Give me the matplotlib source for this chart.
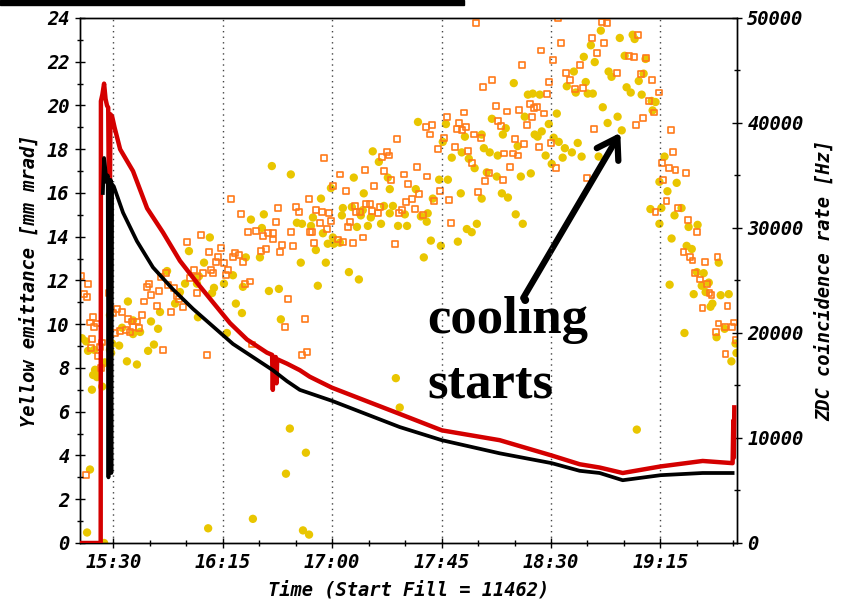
import numpy as np
import matplotlib.pyplot as plt
from matplotlib.ticker import MultipleLocator, FuncFormatter
from matplotlib.patches import Rectangle

# time axis: minutes after 15:00; emittance in mm mrad; rates in kHz

red_t = [16.3, 24.8, 24.9, 25.5, 26.2, 26.8, 27.4, 27.9, 28.2, 28.5, 28.8, 29.5,
         30.5, 32.8, 38.1, 43.9, 50.4, 57.4, 64.4, 71.0, 78.0, 85.0, 93.2, 95.3,
         95.6, 95.9, 96.8, 97.1, 97.4, 101.4, 106.7, 110.8, 119.9, 135.0, 147.8,
         165.1, 188.9, 210.3, 221.8, 230.0, 239.5, 255.1, 272.4, 284.7, 285.0,
         285.2, 285.4]
red_v = [0.0, 0.0, 20.2, 20.5, 21.0, 20.3, 20.0, 19.9, 15.5, 13.9, 19.6, 19.5,
         19.0, 18.0, 17.0, 15.3, 14.2, 12.9, 11.9, 11.0, 10.05, 9.3, 8.7, 8.6,
         7.0, 8.5, 8.5, 7.3, 8.4, 8.2, 7.9, 7.6, 7.1, 6.45, 5.9,
         5.15, 4.7, 4.0, 3.6, 3.45, 3.2, 3.5, 3.75, 3.65, 5.6,
         3.9, 6.2]

blk_t = [25.7, 26.2, 26.6, 27.2, 27.7, 28.0, 28.3, 28.6, 28.9, 29.2, 29.5, 30.2,
         34.0, 39.7, 46.3, 54.5, 62.8, 71.0, 79.2, 87.4, 95.6, 101.4, 106.7,
         119.9, 135.0, 147.8, 165.1, 188.9, 210.3, 221.8, 230.0, 239.5, 255.1,
         272.4, 284.7]
blk_v = [16.0, 17.6, 17.2, 16.5, 16.8, 3.0, 16.5, 4.7, 16.6, 3.2, 16.4, 16.3,
         15.1, 13.8, 12.6, 11.6, 10.7, 9.9, 9.1, 8.5, 7.9, 7.4, 7.0,
         6.5, 5.85, 5.3, 4.7, 4.1, 3.65, 3.3, 3.2, 2.87, 3.1,
         3.2, 3.2]

yel_t = [17.1, 18.8, 19.6, 22.1, 21.7, 22.5, 23.3, 23.3, 21.2, 25.8, 26.5, 25.4,
         20.4, 19.2, 26.2, 28.6, 29.5, 29.1, 32.4, 28.6, 35.6, 39.7, 33.6, 38.1,
         41.0, 48.4, 46.7, 44.3, 36.0, 45.5, 38.1, 49.2, 55.4, 57.4, 64.8, 59.5,
         64.4, 65.2, 52.1, 61.1, 67.3, 69.7, 71.4, 70.6, 75.5, 79.2, 80.4, 82.9,
         83.3, 84.5, 90.3, 86.6, 91.9, 91.1, 95.2, 103.0, 105.5, 107.1, 94.0, 98.1,
         98.9, 76.7, 87.4, 69.0, 101.0, 102.6, 109.2, 146.2, 147.8, 108.0, 110.5, 245.3,
         155.3, 166.8, 165.5, 174.6, 185.7, 182.4, 184.8, 188.1, 136.7, 139.2, 173.3, 169.2,
         176.2, 178.6, 142.9, 128.9, 119.5, 164.0, 167.6, 143.7, 133.0, 154.4, 172.9, 181.5,
         187.7, 161.4, 115.4, 124.4, 128.1, 141.3, 145.0, 135.9, 132.6, 143.7, 149.9, 159.3,
         156.5, 112.1, 124.0, 131.8, 130.2, 134.7, 140.1, 147.1, 150.8, 158.9, 107.6, 111.3,
         116.2, 120.3, 118.2, 120.7, 123.2, 113.3, 160.6, 164.7, 157.7, 171.7, 175.4, 177.4,
         179.5, 117.4, 126.9, 131.0, 114.1, 230.5, 226.4, 238.3, 243.6, 244.4, 223.5, 228.0,
         240.3, 219.4, 233.7, 234.9, 224.3, 216.5, 220.2, 225.1, 227.2, 241.1, 242.8, 247.3,
         246.1, 248.1, 251.4, 253.0, 251.8, 194.7, 200.5, 202.5, 205.4, 212.4, 209.1, 231.3,
         237.4, 233.3, 239.1, 191.4, 190.2, 203.3, 206.2, 204.5, 199.2, 211.1, 213.2, 215.7,
         218.6, 221.0, 222.6, 229.6, 214.8, 207.8, 196.3, 181.5, 210.3, 183.6, 197.6, 201.7,
         189.8, 192.3, 195.5, 198.4, 256.7, 254.6, 257.9, 255.4, 250.9, 261.7, 260.8, 263.7,
         254.6, 266.6, 270.3, 259.6, 265.8, 267.9, 279.0, 270.0, 272.8, 274.9, 272.0, 258.8,
         273.6, 268.7, 279.8, 283.1, 276.4, 275.6, 264.9, 281.4, 278.1, 285.9, 286.3, 284.2,
         248.9]
yel_khz = [19.5, 19.2, 18.3, 18.4, 16.0, 16.5, 15.8, 16.4, 14.6, 17.1, 17.2, 14.9,
           7.0, 1.0, 0.0, 21.7, 19.0, 18.1, 18.8, 18.4, 17.3, 17.0, 20.5, 19.9,
           20.1, 20.4, 18.9, 18.3, 23.0, 21.1, 21.2, 22.0, 22.8, 23.9, 21.5, 24.7,
           24.7, 25.4, 25.9, 27.8, 26.7, 29.1, 24.3, 23.8, 24.7, 25.5, 22.8, 21.9,
           24.4, 27.2, 27.2, 30.8, 31.3, 30.0, 35.9, 35.1, 30.5, 26.7, 24.0, 24.2,
           21.3, 20.0, 2.3, 1.4, 6.6, 10.9, 8.6, 15.7, 12.9, 1.2, 0.8, 10.8,
           40.1, 39.9, 38.2, 38.7, 40.4, 37.6, 37.2, 36.9, 37.3, 36.3, 37.2, 36.7,
           36.6, 35.7, 34.8, 34.8, 33.8, 34.6, 34.6, 33.7, 33.3, 33.7, 33.3, 32.8,
           34.9, 32.8, 32.8, 31.9, 32.0, 32.1, 32.1, 31.0, 31.7, 31.4, 31.3, 31.4,
           31.1, 31.0, 31.2, 31.2, 30.1, 30.2, 30.4, 30.2, 30.2, 30.6, 30.4, 30.2,
           29.5, 29.1, 28.5, 28.5, 28.6, 27.9, 28.8, 28.3, 27.2, 28.7, 29.9, 29.6,
           30.4, 26.7, 25.8, 25.1, 24.5, 48.8, 47.4, 48.1, 48.4, 48.0, 46.3, 45.8,
           46.4, 44.9, 44.9, 44.4, 43.9, 43.5, 42.9, 42.8, 42.8, 43.4, 42.9, 42.7,
           44.0, 44.7, 42.1, 42.0, 41.2, 43.8, 42.7, 42.8, 42.7, 40.9, 39.9, 41.5,
           40.6, 40.0, 39.3, 39.5, 38.9, 38.9, 39.2, 38.7, 40.6, 38.6, 38.2, 37.6,
           37.2, 38.1, 36.8, 36.8, 36.7, 36.9, 37.8, 38.9, 36.1, 35.3, 34.9, 35.2,
           33.3, 32.9, 31.3, 30.4, 36.8, 34.4, 33.5, 31.9, 31.8, 34.3, 31.2, 31.9,
           30.4, 30.1, 30.3, 29.0, 28.3, 28.0, 26.7, 25.8, 25.7, 24.8, 24.5, 24.6,
           23.9, 23.7, 23.6, 23.7, 22.8, 22.5, 20.0, 20.4, 19.6, 19.0, 18.1, 17.3,
           46.1]

sq_t = [16.8, 19.6, 18.0, 19.2, 20.4, 21.7, 23.3, 21.2, 20.8, 24.5, 25.4, 23.7,
        24.9, 18.8, 22.1, 28.2, 29.9, 31.5, 33.6, 30.7, 36.0, 37.7, 39.7, 38.1,
        40.6, 35.2, 32.8, 36.9, 41.8, 42.6, 48.0, 53.8, 58.7, 57.0, 56.2, 45.5,
        48.8, 43.9, 55.0, 52.5, 44.7, 49.6, 51.7, 61.5, 64.4, 64.4, 63.2, 66.9,
        71.0, 70.2, 77.2, 76.4, 72.2, 73.0, 75.5, 69.4, 74.3, 60.3, 66.1, 78.4,
        82.5, 84.1, 86.2, 80.0, 81.7, 79.2, 83.3, 85.4, 88.6, 91.5, 93.6, 95.6,
        95.6, 96.8, 97.6, 105.1, 106.3, 110.4, 103.0, 110.8, 99.3, 103.8, 92.7, 90.7,
        98.5, 101.8, 108.8, 100.6, 107.6, 109.6, 68.5, 87.0, 50.4,
        116.6, 146.6, 123.2, 133.4, 141.3, 142.5, 143.3, 140.4, 154.8, 158.9, 149.5, 144.1,
        151.1, 137.1, 120.3, 125.6, 155.6, 152.8, 150.3, 161.8, 164.3, 168.0, 129.3, 133.8,
        135.5, 139.6, 129.7, 131.4, 136.3, 138.8, 154.0, 147.5, 148.7, 157.3, 113.3, 115.8,
        118.7, 115.0, 119.5, 127.3, 126.5, 117.8, 111.7, 122.3, 124.4, 132.6, 128.5, 112.5,
        145.8, 168.8, 167.2, 158.6, 161.0, 160.2, 172.1, 171.3, 173.3, 175.0, 174.1, 178.2,
        181.1, 165.9, 163.4, 170.4, 175.7, 177.4, 187.3, 188.1, 182.8, 184.5, 179.9, 193.1,
        179.1, 212.8, 230.9, 232.9, 226.8, 231.7, 214.0, 245.7, 205.8, 228.8, 242.0, 244.1,
        249.0, 198.0, 210.7, 221.8, 237.0, 246.9, 216.1, 217.7, 185.6, 181.9, 209.1, 219.8,
        223.1, 208.2, 251.4, 254.3, 250.3, 252.3, 191.8, 196.8, 201.3, 203.0, 204.2, 207.1,
        189.3, 202.1, 200.0, 227.6, 247.8, 244.9, 259.2, 195.1, 198.8, 209.9, 205.0, 190.6,
        194.3, 196.3, 260.1, 211.9, 255.5, 258.4, 261.2, 190.1, 224.7, 255.9, 257.5, 253.0,
        262.1, 266.2, 269.9, 264.5, 267.0, 268.2, 273.2, 278.5, 269.1, 271.2, 274.0, 275.2,
        276.0, 272.3, 282.6, 278.9, 281.4, 284.3, 285.1, 277.7, 281.8, 285.9, 265.4]
sq_khz = [25.4, 24.7, 23.7, 23.4, 21.0, 21.5, 20.9, 19.4, 18.6, 18.7, 19.1, 17.8,
          16.7, 6.5, 20.6, 23.8, 21.9, 22.3, 22.0, 20.0, 21.3, 21.1, 21.1, 20.6,
          20.5, 20.3, 20.2, 20.1, 21.7, 23.0, 22.6, 22.0, 22.5, 23.2, 23.5, 23.6,
          24.0, 24.4, 24.3, 24.6, 24.7, 25.3, 25.7, 25.2, 25.3, 23.8, 26.0, 25.7,
          25.7, 26.0, 26.0, 25.5, 26.8, 27.2, 26.7, 27.7, 28.1, 28.7, 29.3, 32.8,
          31.3, 24.7, 24.9, 27.6, 27.4, 27.2, 26.8, 29.6, 29.7, 29.2, 29.5, 29.5,
          28.9, 30.6, 31.9, 32.0, 31.5, 32.8, 29.6, 29.6, 28.4, 28.3, 28.0, 27.8,
          27.7, 23.2, 21.3, 20.6, 17.9, 18.2, 17.9, 18.9, 18.4,
          36.7, 38.5, 35.1, 35.5, 35.4, 37.2, 36.9, 36.8, 35.8, 34.9, 35.1, 34.6,
          34.2, 34.0, 34.0, 33.5, 33.2, 32.8, 32.5, 32.6, 33.5, 32.7, 32.1, 32.3,
          32.3, 32.0, 31.5, 31.5, 31.6, 31.4, 31.8, 31.4, 31.7, 31.2, 31.7, 31.5,
          31.4, 30.5, 30.7, 30.6, 30.1, 29.9, 29.6, 28.9, 28.7, 29.1, 28.6, 28.6,
          28.5, 30.5, 40.6, 39.6, 39.8, 38.9, 40.0, 39.4, 39.3, 39.6, 41.0, 38.9,
          38.6, 38.6, 37.5, 37.7, 37.3, 36.2, 41.6, 40.2, 34.5, 35.2, 33.4, 35.8,
          49.5, 50.0, 49.6, 49.5, 48.1, 47.6, 47.6, 48.4, 46.9, 46.7, 46.4, 46.3,
          46.2, 45.5, 46.0, 45.5, 44.8, 44.7, 44.8, 44.1, 44.1, 43.4, 43.9, 43.2,
          43.3, 42.8, 44.1, 42.9, 42.1, 41.0, 41.1, 41.2, 41.8, 41.4, 41.5, 40.9,
          39.7, 40.6, 39.8, 39.4, 40.5, 39.8, 39.3, 38.5, 38.0, 38.1, 37.7, 37.1,
          37.1, 36.9, 37.2, 35.7, 36.2, 35.7, 35.5, 34.6, 34.8, 34.6, 32.6, 31.5,
          31.9, 30.8, 29.6, 27.7, 27.2, 26.9, 26.8, 27.2, 25.7, 25.1, 24.7, 23.8,
          23.6, 22.4, 22.6, 20.9, 20.6, 20.6, 21.0, 20.1, 18.0, 19.3, 35.2]

major_ticks = [30, 75, 120, 165, 210, 255]

# monospace bold oblique everywhere except the annotation
plt.rcParams['font.family'] = 'DejaVu Sans Mono'
plt.rcParams['font.weight'] = 'bold'
plt.rcParams['font.style'] = 'oblique'
plt.rcParams['axes.labelweight'] = 'bold'
plt.rcParams['font.size'] = 13.5


def hhmm(m, pos=None):
    m = int(round(m))
    return '{}:{:02d}'.format(15 + m // 60, m % 60)


fig = plt.figure(figsize=(8.44, 6.04), dpi=100)
ax = fig.add_axes([0.0948, 0.1010, 0.7784, 0.8692])
ax2 = ax.twinx()

# rate scatter on the right axis
ax2.scatter(yel_t, np.array(yel_khz) * 1000, s=36, color='#E9C600',
            edgecolors='none', zorder=2)
ax2.scatter(sq_t, np.array(sq_khz) * 1000, s=18, marker='s', facecolors='none',
            edgecolors='#FF7A1A', linewidths=1.2, zorder=3)
ax2.set_ylim(0, 50000)
ax2.yaxis.set_major_locator(MultipleLocator(10000))
ax2.yaxis.set_minor_locator(MultipleLocator(5000))

# emittance curves on the left axis, drawn above the points
ax.set_zorder(ax2.get_zorder() + 1)
ax.patch.set_visible(False)
ax.plot(red_t, red_v, color='#D40000', lw=3.2, zorder=3)
ax.plot(blk_t, blk_v, color='black', lw=2.7, zorder=4)
ax.set_xlim(16.3, 286.5)
ax.set_ylim(0, 24)
ax.xaxis.set_major_locator(plt.FixedLocator(major_ticks))
ax.xaxis.set_minor_locator(MultipleLocator(15))
ax.xaxis.set_major_formatter(FuncFormatter(hhmm))
ax.yaxis.set_major_locator(MultipleLocator(2))
ax.yaxis.set_minor_locator(MultipleLocator(1))
ax.grid(axis='x', which='major', color='#444444', lw=1.0, linestyle=(0, (1, 3)))

for a in (ax, ax2):
    a.tick_params(which='major', direction='inout', length=7, width=1, pad=4)
    a.tick_params(which='minor', direction='inout', length=5, width=1)
    for sp in a.spines.values():
        sp.set_linewidth(1.0)
ax.tick_params(axis='x', pad=4)

ax.set_xlabel('Time (Start Fill = 11462)', labelpad=6)
ax.set_ylabel('Yellow emittance [mm mrad]', labelpad=6)
ax2.set_ylabel('ZDC coincidence rate [Hz]', labelpad=8)

# annotation
ax2.annotate('', xy=(239.1, 39300), xytext=(198.0, 23100),
             arrowprops=dict(arrowstyle='->,head_length=0.7,head_width=0.45',
                             lw=4.5, color='black', mutation_scale=20))
serif = dict(family='Liberation Serif', weight='bold', style='normal', size=38)
fig.text(0.506, 1 - 333 / 604, 'cooling', fontdict=serif, ha='left', va='baseline')
fig.text(0.506, 1 - 397 / 604, 'starts', fontdict=serif, ha='left', va='baseline')

# black strip along the top edge of the scan
fig.patches.append(Rectangle((0, 1 - 5 / 604), 464 / 844, 5 / 604,
                             transform=fig.transFigure, color='black'))

fig.savefig('out.png', dpi=100)
